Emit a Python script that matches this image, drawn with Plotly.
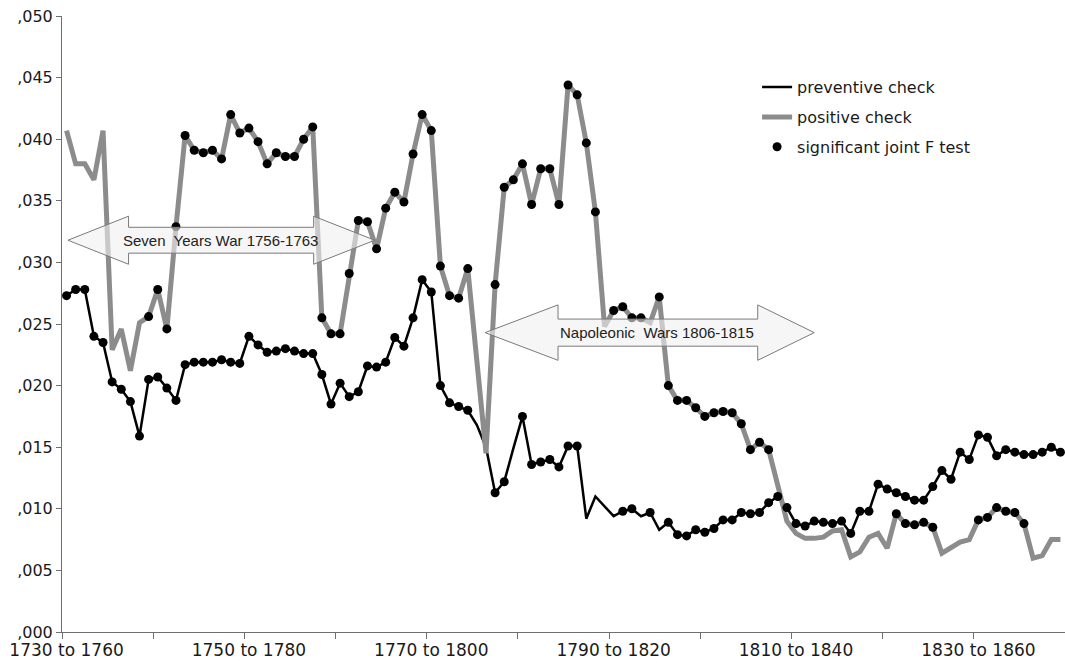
import plotly.graph_objects as go

# Rolling 30-year windows, labelled by start and end year
start_years = list(range(1730, 1840))
periods = [f"{y} to {y + 30}" for y in start_years]

# Estimated strength of the preventive check (black line)
preventive = [
    0.0273, 0.0278, 0.0278, 0.0240, 0.0235, 0.0203, 0.0197, 0.0187, 0.0159, 0.0205,
    0.0207, 0.0198, 0.0188, 0.0217, 0.0219, 0.0219, 0.0219, 0.0221, 0.0219, 0.0218,
    0.0240, 0.0233, 0.0227, 0.0228, 0.0230, 0.0228, 0.0226, 0.0226, 0.0209, 0.0185,
    0.0202, 0.0191, 0.0195, 0.0216, 0.0215, 0.0219, 0.0239, 0.0232, 0.0255, 0.0286,
    0.0276, 0.0200, 0.0186, 0.0183, 0.0180, 0.0168, 0.0150, 0.0113, 0.0122, 0.0149,
    0.0175, 0.0136, 0.0138, 0.0140, 0.0134, 0.0151, 0.0151, 0.0092, 0.0110, 0.0102,
    0.0094, 0.0098, 0.0100, 0.0094, 0.0097, 0.0083, 0.0089, 0.0079, 0.0078, 0.0083,
    0.0081, 0.0084, 0.0091, 0.0091, 0.0097, 0.0096, 0.0097, 0.0105, 0.0110, 0.0101,
    0.0088, 0.0086, 0.0090, 0.0089, 0.0088, 0.0090, 0.0080, 0.0098, 0.0098, 0.0120,
    0.0116, 0.0113, 0.0110, 0.0107, 0.0107, 0.0118, 0.0131, 0.0124, 0.0146, 0.0140,
    0.0160, 0.0158, 0.0143, 0.0148, 0.0146, 0.0144, 0.0144, 0.0146, 0.0150, 0.0146,
]

# Estimated strength of the positive check (grey line)
positive = [
    0.0407, 0.0380, 0.0380, 0.0367, 0.0407, 0.0229, 0.0246, 0.0212, 0.0251, 0.0256,
    0.0278, 0.0246, 0.0329, 0.0403, 0.0391, 0.0389, 0.0391, 0.0384, 0.0420, 0.0405,
    0.0409, 0.0398, 0.0380, 0.0389, 0.0386, 0.0386, 0.0400, 0.0410, 0.0255, 0.0242,
    0.0242, 0.0291, 0.0334, 0.0333, 0.0311, 0.0344, 0.0357, 0.0349, 0.0388, 0.0420,
    0.0407, 0.0297, 0.0273, 0.0271, 0.0295, 0.0220, 0.0145, 0.0282, 0.0361, 0.0367,
    0.0380, 0.0347, 0.0376, 0.0376, 0.0347, 0.0444, 0.0436, 0.0397, 0.0341, 0.0248,
    0.0261, 0.0264, 0.0255, 0.0255, 0.0251, 0.0272, 0.0200, 0.0188, 0.0188, 0.0182,
    0.0175, 0.0178, 0.0179, 0.0178, 0.0169, 0.0148, 0.0154, 0.0148, 0.0119, 0.0090,
    0.0080, 0.0076, 0.0076, 0.0077, 0.0082, 0.0083, 0.0061, 0.0065, 0.0077, 0.0080,
    0.0068, 0.0096, 0.0088, 0.0087, 0.0089, 0.0085, 0.0064, 0.0069, 0.0073, 0.0075,
    0.0091, 0.0093, 0.0101, 0.0098, 0.0097, 0.0088, 0.0060, 0.0062, 0.0075, 0.0075,
]

# Windows where the joint F test is significant (1 = significant)
preventive_sig = [
    1, 1, 1, 1, 1, 1, 1, 1, 1, 1,
    1, 1, 1, 1, 1, 1, 1, 1, 1, 1,
    1, 1, 1, 1, 1, 1, 1, 1, 1, 1,
    1, 1, 1, 1, 1, 1, 1, 1, 1, 1,
    1, 1, 1, 1, 1, 0, 0, 1, 1, 0,
    1, 1, 1, 1, 1, 1, 1, 0, 0, 0,
    0, 1, 1, 0, 1, 0, 1, 1, 1, 1,
    1, 1, 1, 1, 1, 1, 1, 1, 1, 1,
    1, 1, 1, 1, 1, 1, 1, 1, 1, 1,
    1, 1, 1, 1, 1, 1, 1, 1, 1, 1,
    1, 1, 1, 1, 1, 1, 1, 1, 1, 1,
]
positive_sig = [
    0, 0, 0, 0, 0, 0, 0, 0, 0, 1,
    1, 1, 1, 1, 1, 1, 1, 1, 1, 1,
    1, 1, 1, 1, 1, 1, 1, 1, 1, 1,
    1, 1, 1, 1, 1, 1, 1, 1, 1, 1,
    1, 1, 1, 1, 1, 0, 0, 1, 1, 1,
    1, 1, 1, 1, 1, 1, 1, 1, 1, 0,
    1, 1, 1, 1, 0, 1, 1, 1, 1, 1,
    1, 1, 1, 1, 1, 1, 1, 1, 0, 0,
    0, 0, 0, 0, 0, 0, 0, 0, 0, 0,
    0, 1, 1, 1, 1, 1, 0, 0, 0, 0,
    1, 1, 1, 1, 1, 1, 0, 0, 0, 0,
]

y_ticks = [0.000, 0.005, 0.010, 0.015, 0.020, 0.025, 0.030, 0.035, 0.040, 0.045, 0.050]
y_tick_text = [",000", ",005", ",010", ",015", ",020", ",025", ",030", ",035", ",040", ",045", ",050"]

xs = list(range(len(periods)))

sig_x, sig_y = [], []
for series, flags in ((preventive, preventive_sig), (positive, positive_sig)):
    for i, (v, f) in enumerate(zip(series, flags)):
        if f:
            sig_x.append(i)
            sig_y.append(v)

WIDE = "DejaVu Sans, Verdana, sans-serif"
NARROW = "Arial, Liberation Sans, sans-serif"

fig = go.Figure()
fig.add_trace(go.Scatter(
    x=xs, y=preventive, mode="lines", name="preventive check",
    line=dict(color="#000000", width=2.5), legendgroup="a",
    customdata=periods, hovertemplate="%{customdata}: %{y:.4f}<extra></extra>",
))
fig.add_trace(go.Scatter(
    x=xs, y=positive, mode="lines", name="positive check",
    line=dict(color="#8c8c8c", width=5), legendgroup="b",
    customdata=periods, hovertemplate="%{customdata}: %{y:.4f}<extra></extra>",
))
fig.add_trace(go.Scatter(
    x=sig_x, y=sig_y, mode="markers", name="significant joint F test",
    marker=dict(color="#000000", size=9), legendgroup="c",
))


def double_arrow(x0, x1, xh0, xh1, yc, body, head):
    """SVG path of a horizontal double-headed block arrow in data units."""
    pts = [
        (x0, yc), (xh0, yc + head), (xh0, yc + body), (xh1, yc + body),
        (xh1, yc + head), (x1, yc), (xh1, yc - head), (xh1, yc - body),
        (xh0, yc - body), (xh0, yc - head),
    ]
    return "M " + " L ".join(f"{x},{y}" for x, y in pts) + " Z"


arrow_style = dict(
    type="path", xref="x", yref="y", layer="above",
    fillcolor="rgba(240,240,240,0.6)", line=dict(color="#7a7a7a", width=1),
)
fig.add_shape(path=double_arrow(0.15, 33.8, 6.8, 27.1, 0.0318, 0.00105, 0.00195), **arrow_style)
fig.add_shape(path=double_arrow(45.9, 82.0, 53.9, 75.8, 0.0243, 0.00110, 0.00225), **arrow_style)

fig.add_annotation(x=16.9, y=0.0318, text="Seven  Years War 1756-1763", showarrow=False,
                   font=dict(family=NARROW, size=15, color="#222222"))
fig.add_annotation(x=64.7, y=0.0243, text="Napoleonic  Wars 1806-1815", showarrow=False,
                   font=dict(family=NARROW, size=15, color="#222222"))

fig.update_layout(
    width=1065, height=664,
    margin=dict(l=62, r=0, t=16, b=32),
    paper_bgcolor="white", plot_bgcolor="white",
    font=dict(family=WIDE, size=16, color="#1a1a1a"),
    showlegend=True,
    legend=dict(
        x=0.693, y=0.912, xanchor="left", yanchor="top",
        bgcolor="rgba(0,0,0,0)", font=dict(family=WIDE, size=16, color="#1a1a1a"),
        tracegroupgap=6,
    ),
    xaxis=dict(
        range=[-0.5, len(periods) - 0.5],
        tickmode="array", tickvals=xs[::20], ticktext=periods[::20],
        tickfont=dict(family=WIDE, size=17),
        ticks="", ticklabelstandoff=3, showgrid=False, zeroline=False,
        showline=True, linecolor="#6e6e6e", linewidth=1,
        minor=dict(tickmode="array", tickvals=[k - 0.5 for k in range(0, len(periods) + 1, 10)],
                   ticks="outside", ticklen=6, tickcolor="#6e6e6e", showgrid=False),
    ),
    yaxis=dict(
        range=[0, 0.050],
        tickmode="array", tickvals=y_ticks, ticktext=y_tick_text,
        tickfont=dict(family=WIDE, size=16),
        ticks="outside", ticklen=5, tickcolor="#6e6e6e",
        showgrid=False, zeroline=False,
        showline=True, linecolor="#6e6e6e", linewidth=1,
    ),
)

fig.write_html("out.html")
